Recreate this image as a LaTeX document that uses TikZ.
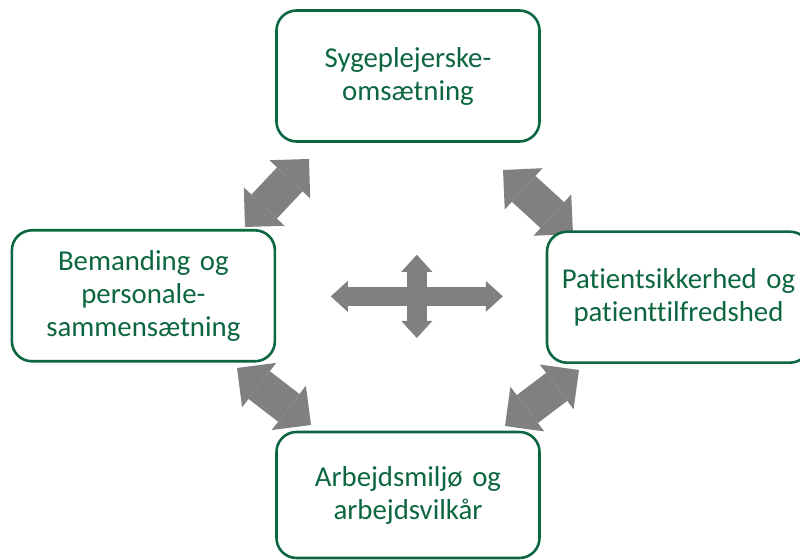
\documentclass[tikz,border=0pt]{standalone}
\usepackage{fontspec}
\setmainfont[Ligatures=NoCommon]{Carlito}
\usetikzlibrary{positioning,arrows.meta,backgrounds}
\definecolor{boxgreen}{RGB}{12,102,64}
\definecolor{arrowgray}{RGB}{128,128,128}

\begin{document}
\begin{tikzpicture}[x=1pt,y=1pt,on grid,
    box/.style={draw=boxgreen,line width=1.3pt,rounded corners=10pt,fill=white,
      text=boxgreen,minimum width=131.5pt,minimum height=65.5pt,text width=125pt,
      align=center,inner sep=0pt,font=\fontsize{14.4pt}{16.5pt}\selectfont},
    link/.style={arrowgray,line width=17.5pt,
      {Triangle[width=28pt,length=14pt,line width=0pt]}-{Triangle[width=28pt,length=14pt,line width=0pt]}},
    crossarm/.style={arrowgray,line width=9.75pt,
      {Triangle[width=15.5pt,length=8.5pt,line width=0pt]}-{Triangle[width=15.5pt,length=8.5pt,line width=0pt]}}]
  \useasboundingbox (0,0) rectangle (400,280);
  \node[box] (oms)                                          at (204,242) {Sygeplejerske-\\omsætning};
  \node[box] (bem)  [below left=109.9pt and 132.3pt of oms]  {Bemanding og\\personale-\\sammensætning};
  \node[box] (pat)  [below right=110.6pt and 135.25pt of oms] {Patientsikkerhed og\\patienttilfredshed};
  \node[box,minimum height=63pt] (arb) [below=209.5pt of oms] {Arbejdsmiljø og\\arbejdsvilkår};
  % arrow ends between the boxes
  \coordinate (bem_oms) at (122.5,166.5);
  \coordinate (oms_bem) at (154.5,200.5);
  \coordinate (oms_pat) at (251.5,195);
  \coordinate (pat_oms) at (286.5,163);
  \coordinate (bem_arb) at (118.5,96);
  \coordinate (arb_bem) at (155.5,67.5);
  \coordinate (pat_arb) at (289.5,95);
  \coordinate (arb_pat) at (252.5,67);
  % centre cross
  \coordinate (mid) at (208.4,131.8);
  \coordinate (mid_w) at ([xshift=-43pt]mid);
  \coordinate (mid_e) at ([xshift=43pt]mid);
  \coordinate (mid_n) at ([yshift=20.8pt]mid);
  \coordinate (mid_s) at ([yshift=-20.8pt]mid);
  \begin{scope}[on background layer]
    \draw[link] (bem_oms) -- (oms_bem);
    \draw[link] (oms_pat) -- (pat_oms);
    \draw[link] (bem_arb) -- (arb_bem);
    \draw[link] (pat_arb) -- (arb_pat);
    \draw[crossarm] (mid_w) -- (mid_e);
    \draw[crossarm] (mid_n) -- (mid_s);
  \end{scope}
\end{tikzpicture}
\end{document}
